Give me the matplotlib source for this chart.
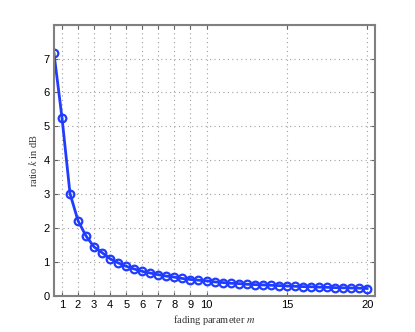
import matplotlib
matplotlib.use("Agg")
import matplotlib.pyplot as plt

m_values = [0.5, 1, 1.5, 2, 2.5, 3, 3.5, 4, 4.5, 5, 5.5, 6, 6.5, 7, 7.5, 8, 8.5, 9, 9.5, 10,
            10.5, 11, 11.5, 12, 12.5, 13, 13.5, 14, 14.5, 15, 15.5, 16, 16.5, 17, 17.5, 18,
            18.5, 19, 19.5, 20]
k_db = [7.16, 5.26, 3.02, 2.22, 1.77, 1.45, 1.28, 1.10, 0.98, 0.88, 0.80, 0.73, 0.68, 0.63,
        0.59, 0.56, 0.52, 0.49, 0.47, 0.45, 0.42, 0.40, 0.38, 0.37, 0.35, 0.34, 0.33, 0.32,
        0.31, 0.30, 0.29, 0.28, 0.275, 0.265, 0.26, 0.25, 0.245, 0.24, 0.235, 0.225]
x_ticks = [1, 2, 3, 4, 5, 6, 7, 8, 9, 10, 15, 20]
y_ticks = [0, 1, 2, 3, 4, 5, 6, 7, 8]
y_tick_labels = ["0", "1", "2", "3", "4", "5", "6", "7", ""]

plt.rcParams['mathtext.fontset'] = 'stix'
plt.rcParams['font.family'] = ['Liberation Sans', 'DejaVu Sans']

fig = plt.figure(figsize=(4.15, 3.32), dpi=100)
ax = fig.add_axes([0.13, 0.108, 0.774, 0.818])

ax.plot(m_values, k_db, color='#1f3cff', lw=2.0, marker='o', ms=5.5,
        mfc='none', mec='#1f3cff', mew=1.6)

ax.set_xlim(0.5, 20.5)
ax.set_ylim(0, 8)
ax.set_xticks(x_ticks)
ax.set_xticklabels([str(t) for t in x_ticks])
ax.set_yticks(y_ticks)
ax.set_yticklabels(y_tick_labels)

ax.grid(True, linestyle=(0, (1, 3)), color='#a0a0a0', lw=0.8)
ax.tick_params(direction='in', length=3, width=0.8, top=True, right=True,
               labelsize=8, colors='#606060', labelcolor='black', pad=3)
for s in ax.spines.values():
    s.set_color('#808080')
    s.set_linewidth(1.5)

ax.set_xlabel('fading parameter $m$', family='Liberation Serif', fontsize=7.5,
              labelpad=2, color='#333333')
ax.set_ylabel('ratio $k$ in dB', family='Liberation Serif', fontsize=7.5,
              labelpad=3, color='#333333')

fig.savefig('out.png', dpi=100)
